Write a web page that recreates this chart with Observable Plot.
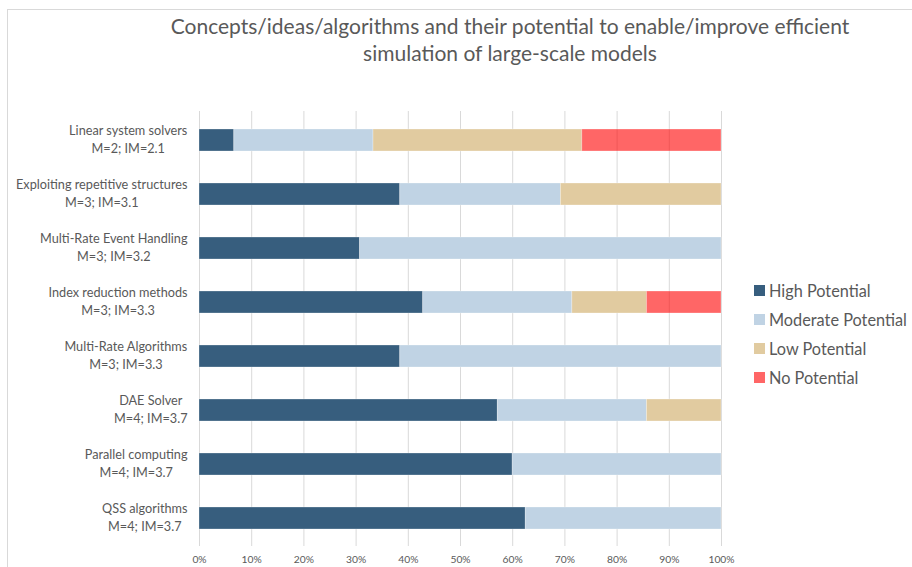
<!DOCTYPE html>
<html>
<head>
<meta charset="utf-8">
<script src="https://cdn.jsdelivr.net/npm/d3@7"></script>
<script src="https://cdn.jsdelivr.net/npm/@observablehq/plot@0.6"></script>
<style>
  html, body { margin: 0; padding: 0; background: #fff; }
  #wrap { position: relative; width: 912px; height: 567px; overflow: hidden; font-family: Lato, "Open Sans", sans-serif; color: #595959; }
  #frame { position: absolute; left: 7px; top: 9px; right: 0; bottom: 0; border-left: 1px solid #d9d9d9; border-top: 1px solid #d9d9d9; }
  #title { position: absolute; left: 108px; width: 804px; top: 12px; text-align: center; font-size: 21px; line-height: 27px; color: #595959; }
  #legend { position: absolute; left: 754px; top: 276px; font-size: 16.3px; color: #595959; }
  #legend .item { height: 29px; display: flex; align-items: center; white-space: nowrap; }
  #legend .sw { width: 11px; height: 11px; margin-right: 4px; flex: none; }
  #chart { position: absolute; left: 0; top: 0; }
</style>
</head>
<body>
<div id="wrap">
  <div id="frame"></div>
  <div id="chart"></div>
  <div id="title"></div>
  <div id="legend"></div>
</div>
<script>
const titleLines = ["Concepts/ideas/algorithms and their potential to enable/improve efficient", "simulation of large-scale models"];
const categories = ["Linear system solvers", "Exploiting repetitive structures", "Multi-Rate Event Handling", "Index reduction methods", "Multi-Rate Algorithms", "DAE Solver", "Parallel computing", "QSS algorithms"];
const stats = ["M=2; IM=2.1", "M=3; IM=3.1", "M=3; IM=3.2", "M=3; IM=3.3", "M=3; IM=3.3", "M=4; IM=3.7", "M=4; IM=3.7", "M=4; IM=3.7"];
const series = ["High Potential", "Moderate Potential", "Low Potential", "No Potential"];
const high = [1, 5, 4, 3, 5, 4, 3, 5];
const moderate = [4, 4, 9, 2, 8, 2, 2, 3];
const low = [6, 4, 0, 1, 0, 1, 0, 0];
const none = [4, 0, 0, 1, 0, 0, 0, 0];
const colors = ["#375E7E", "#C0D3E4", "#E1CBA0", "#FF0000"];
const opacities = [1, 1, 1, 0.6];
const xTicks = [0, 0.1, 0.2, 0.3, 0.4, 0.5, 0.6, 0.7, 0.8, 0.9, 1];
const xTickLabels = ["0%", "10%", "20%", "30%", "40%", "50%", "60%", "70%", "80%", "90%", "100%"];

const valueSets = [high, moderate, low, none];
const rows = [];
categories.forEach((c, i) => {
  series.forEach((s, j) => rows.push({cat: c, potential: s, count: valueSets[j][i], op: opacities[j]}));
});

const labelSize = 12.7;
const ctx = document.createElement("canvas").getContext("2d");
ctx.font = labelSize + "px Lato";
const labelMarks = categories.flatMap((c, i) => {
  const w = Math.max(ctx.measureText(c).width, ctx.measureText(stats[i]).width);
  const cx = -(12 + w / 2);
  return [
    Plot.text([c], {x: 0, y: d => d, text: d => d, textAnchor: "middle", dx: cx, dy: -10, fontSize: labelSize, fill: "#595959"}),
    Plot.text([c], {x: 0, y: d => d, text: () => stats[i], textAnchor: "middle", dx: cx, dy: 8, fontSize: labelSize, fill: "#595959"})
  ];
});

const chart = Plot.plot({
  width: 912,
  height: 567,
  marginLeft: 199,
  marginRight: 191,
  marginTop: 111,
  marginBottom: 21,
  style: {fontFamily: "Lato, 'Open Sans', sans-serif", background: "transparent", color: "#595959"},
  x: {domain: [0, 1], ticks: xTicks, tickSize: 0, tickPadding: 9, label: null, axis: null},
  y: {domain: categories, paddingInner: 0.6, paddingOuter: 0.3, axis: null},
  color: {domain: series, range: colors},
  marks: [
    Plot.gridX(xTicks, {stroke: "#d9d9d9", strokeOpacity: 1, strokeWidth: 1}),
    Plot.barX(rows, Plot.stackX({
      x: "count", y: "cat", fill: "potential", fillOpacity: "op", offset: "normalize",
      stroke: "#ffffff", strokeOpacity: 0.35, strokeWidth: 0.8
    })),
    Plot.axisX(xTicks, {tickSize: 0, tickPadding: 9, fontSize: 10.3, fill: "#595959", tickFormat: (d) => xTickLabels[xTicks.indexOf(d)], label: null}),
    ...labelMarks
  ]
});
document.getElementById("chart").appendChild(chart);

document.getElementById("title").innerHTML = titleLines.join("<br>");
const legend = document.getElementById("legend");
series.forEach((s, j) => {
  const item = document.createElement("div");
  item.className = "item";
  const sw = document.createElement("span");
  sw.className = "sw";
  sw.style.background = colors[j];
  sw.style.opacity = opacities[j];
  const t = document.createElement("span");
  t.textContent = s;
  item.appendChild(sw);
  item.appendChild(t);
  legend.appendChild(item);
});
</script>
</body>
</html>
